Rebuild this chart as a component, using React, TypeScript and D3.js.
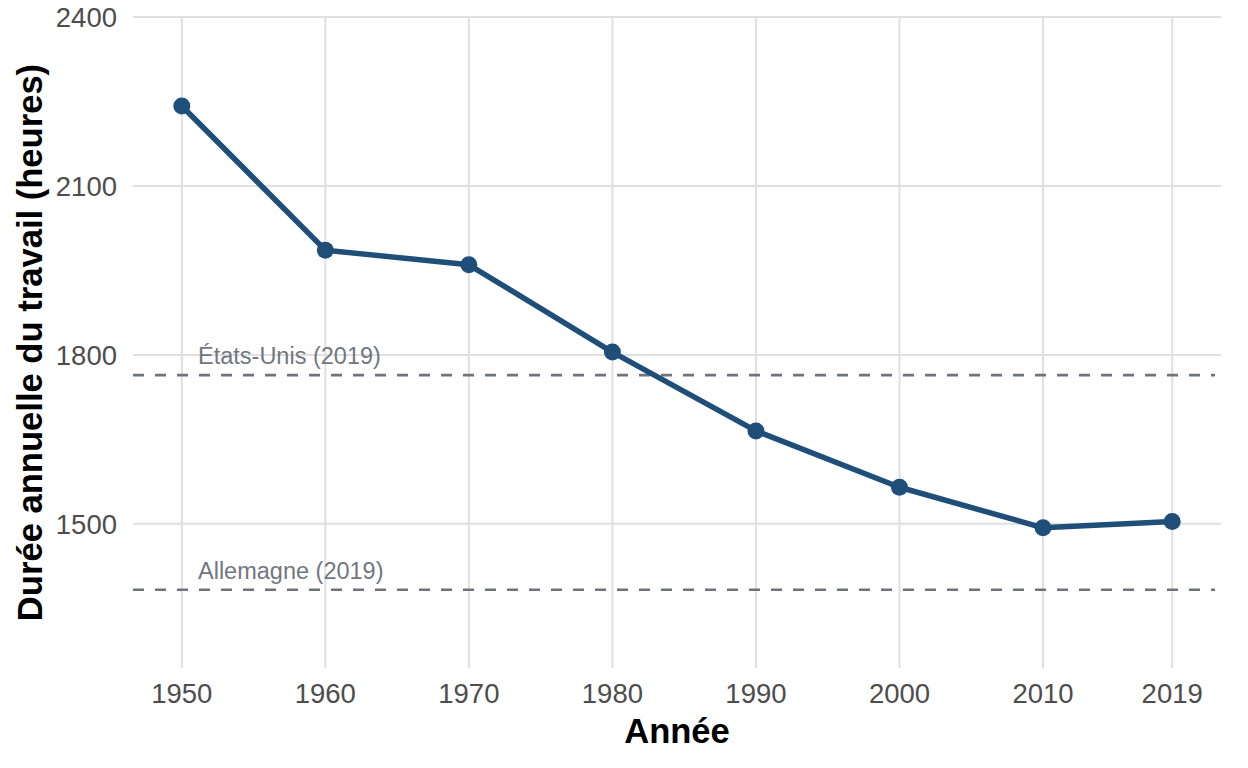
import React from "react";
import * as d3 from "d3";

const years = [1950, 1960, 1970, 1980, 1990, 2000, 2010, 2019];
const hours = [2242, 1986, 1960, 1805, 1665, 1565, 1493, 1504];
const yTicks = [1500, 1800, 2100, 2400];
const references = [
  { label: "États-Unis (2019)", value: 1764 },
  { label: "Allemagne (2019)", value: 1383 },
];

const W = 1248;
const H = 768;
const left = 133;
const right = 1221;
const top = 17;
const bottom = 668;

const tickFont = "'Liberation Sans', Arial, sans-serif";

export default function App() {
  const x = d3.scaleLinear().domain([1946.6, 2022.4]).range([left, right]);
  const y = d3.scaleLinear().domain([1244, 2400]).range([bottom, top]);

  const line = d3
    .line<number>()
    .x((_, i) => x(years[i]))
    .y((d) => y(d));

  return (
    <svg
      width={W}
      height={H}
      style={{ position: "absolute", left: 0, top: 0, background: "#fff" }}
      fontFamily={tickFont}
    >
      {/* grid */}
      {yTicks.map((t) => (
        <line key={"gy" + t} x1={left} x2={right} y1={y(t)} y2={y(t)} stroke="#e0e0e0" strokeWidth={2} />
      ))}
      {years.map((t) => (
        <line key={"gx" + t} x1={x(t)} x2={x(t)} y1={top} y2={bottom} stroke="#e0e0e0" strokeWidth={2} />
      ))}

      {/* reference lines */}
      {references.map((r) => (
        <g key={r.label}>
          <line
            x1={left}
            x2={right - 6}
            y1={y(r.value)}
            y2={y(r.value)}
            stroke="#6f747c"
            strokeWidth={2.6}
            strokeDasharray="11 11"
          />
          <text x={198} y={y(r.value) - 11} fontSize={23.5} fill="#72777f">
            {r.label}
          </text>
        </g>
      ))}

      {/* series */}
      <path d={line(hours) || ""} fill="none" stroke="#1f4e79" strokeWidth={5.5} strokeLinejoin="round" />
      {hours.map((h, i) => (
        <circle key={years[i]} cx={x(years[i])} cy={y(h)} r={8.5} fill="#1f4e79" />
      ))}

      {/* y ticks */}
      {yTicks.map((t) => (
        <text key={"ty" + t} x={117} y={y(t) + 10} textAnchor="end" fontSize={27.5} fill="#4d4d4d">
          {t}
        </text>
      ))}
      {/* x ticks */}
      {years.map((t) => (
        <text key={"tx" + t} x={x(t)} y={703} textAnchor="middle" fontSize={27.5} fill="#4d4d4d">
          {t}
        </text>
      ))}

      {/* axis titles */}
      <text x={677} y={743} textAnchor="middle" fontSize={34.6} fontWeight="bold" fill="#000">
        Année
      </text>
      <text
        transform={`translate(42, ${(top + bottom) / 2}) rotate(-90)`}
        textAnchor="middle"
        fontSize={34.6}
        fontWeight="bold"
        fill="#000"
      >
        Durée annuelle du travail (heures)
      </text>
    </svg>
  );
}
